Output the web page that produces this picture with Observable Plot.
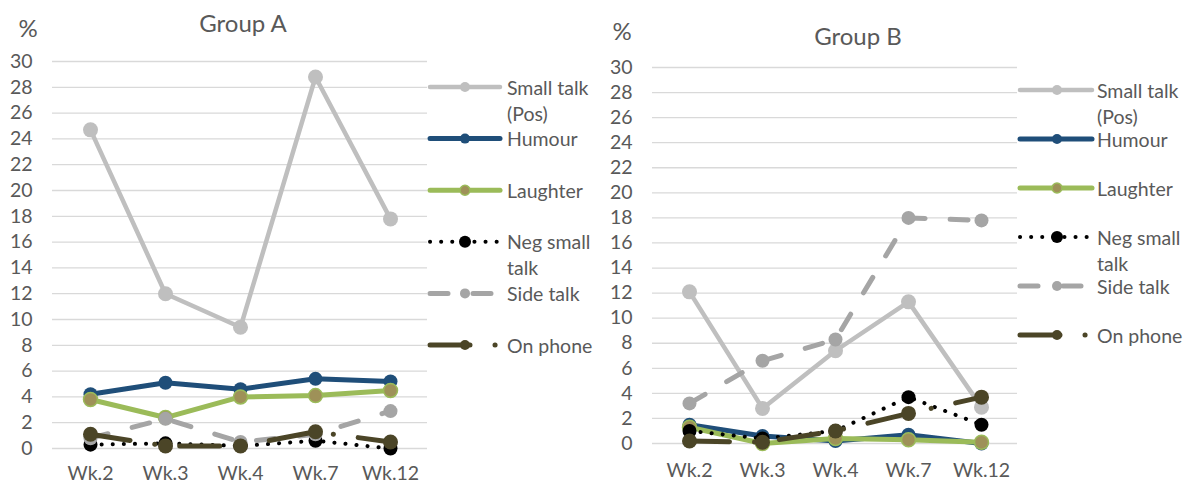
<!DOCTYPE html>
<html><head><meta charset="utf-8">
<script src="https://cdn.jsdelivr.net/npm/d3@7"></script>
<script src="https://cdn.jsdelivr.net/npm/@observablehq/plot@0.6"></script>
<style>
body{margin:0;background:#fff;}
#root{position:relative;width:1189px;height:486px;font-family:Lato,"Open Sans",sans-serif;color:#595959;overflow:hidden;background:#fff}
#root svg{position:absolute;top:0}
</style></head><body><div id="root"></div>
<script>
// ---- data ----
const weeks = ["Wk.2", "Wk.3", "Wk.4", "Wk.7", "Wk.12"];
const seriesNames = ["Small talk (Pos)", "Humour", "Laughter", "Neg small talk", "Side talk", "On phone"];
const legendLines = [["Small talk", "(Pos)"], ["Humour"], ["Laughter"], ["Neg small", "talk"], ["Side talk"], ["On phone"]];
const yTicks = [0, 2, 4, 6, 8, 10, 12, 14, 16, 18, 20, 22, 24, 26, 28, 30];

// Group A
const groupA_smallTalk = [24.7, 12.0, 9.4, 28.8, 17.8];
const groupA_humour    = [4.2, 5.1, 4.6, 5.4, 5.2];
const groupA_laughter  = [3.8, 2.4, 4.0, 4.1, 4.5];
const groupA_negSmall  = [0.3, 0.4, 0.2, 0.6, 0.0];
const groupA_sideTalk  = [0.8, 2.3, 0.5, 1.1, 2.9];
const groupA_onPhone   = [1.1, 0.2, 0.2, 1.3, 0.5];
// Group B
const groupB_smallTalk = [12.1, 2.8, 7.4, 11.3, 2.9];
const groupB_humour    = [1.5, 0.6, 0.2, 0.7, 0.0];
const groupB_laughter  = [1.3, 0.0, 0.4, 0.3, 0.1];
const groupB_negSmall  = [1.0, 0.4, 1.0, 3.7, 1.5];
const groupB_sideTalk  = [3.2, 6.6, 8.3, 18.0, 17.8];
const groupB_onPhone   = [0.2, 0.1, 1.0, 2.4, 3.7];

// ---- styles ----
const styles = [
  {color: "#BFBFBF", width: 4.5, dash: null, r: 7.5, fill: "#BFBFBF", lr: 5},
  {color: "#1F4E79", width: 5, dash: null, r: 7, fill: "#1F4E79", lr: 5},
  {color: "#9BBB59", width: 5, dash: null, r: 7, fill: "#9E9158", mstroke: "#9BBB59", msw: 1.5, lr: 5},
  {color: "#000000", width: 4, dash: "0.1 11", r: 7, fill: "#000000", lr: 6},
  {color: "#A5A5A5", width: 5, dash: "18 25", r: 7, fill: "#A5A5A5", lr: 5},
  {color: "#4B4527", width: 5, dash: "40 25 0.1 25", r: 7.5, fill: "#4B4527", lr: 5}
];
const FONT = "Lato, 'Open Sans', sans-serif";
const root = document.getElementById("root");

function panel(values, cfg) {
  const marks = [
    Plot.gridY(yTicks, {stroke: "#D9D9D9", strokeOpacity: 1, strokeWidth: 1.3}),
    Plot.axisY(yTicks, {tickSize: 0, tickPadding: 20, fontSize: 19.5, label: null}),
    Plot.axisX({tickSize: 0, tickPadding: cfg.xPad, fontSize: 19.5, label: null})
  ];
  seriesNames.forEach((name, i) => {
    const data = weeks.map((w, j) => ({week: w, value: values[i][j], series: name}));
    const s = styles[i];
    marks.push(Plot.line(data, {x: "week", y: "value", stroke: s.color, strokeWidth: s.width,
      strokeDasharray: s.dash || undefined, strokeLinecap: "round", strokeLinejoin: "round"}));
    marks.push(Plot.dot(data, {x: "week", y: "value", r: s.r, fill: s.fill,
      stroke: s.mstroke || "none", strokeWidth: s.msw || 0}));
  });
  const svg = Plot.plot({
    width: cfg.width, height: 486,
    marginLeft: cfg.ml, marginRight: cfg.mr, marginTop: cfg.mt, marginBottom: cfg.mb,
    x: {type: "point", domain: weeks, padding: 0.5, label: null},
    y: {domain: [0, 30], label: null},
    style: {fontFamily: FONT, color: "#595959", background: "transparent", overflow: "visible"},
    marks
  });
  svg.style.left = cfg.left + "px";
  root.appendChild(svg);
}

panel([groupA_smallTalk, groupA_humour, groupA_laughter, groupA_negSmall, groupA_sideTalk, groupA_onPhone],
  {left: 0, width: 430, ml: 52, mr: 3, mt: 61, mb: 38, xPad: 18});
panel([groupB_smallTalk, groupB_humour, groupB_laughter, groupB_negSmall, groupB_sideTalk, groupB_onPhone],
  {left: 590, width: 430, ml: 62, mr: 3, mt: 67, mb: 43, xPad: 20});

// ---- overlay: titles, % and legends ----
const ov = d3.select(root).append("svg").attr("width", 1189).attr("height", 486)
  .style("left", "0px").style("font-family", FONT).style("fill", "#595959");

const titles = [{t: "Group A", x: 243, y: 22}, {t: "Group B", x: 858, y: 35}];
titles.forEach(d => ov.append("text").attr("x", d.x).attr("y", d.y).attr("text-anchor", "middle")
  .attr("dominant-baseline", "central").attr("font-size", 24).text(d.t));
[{x: 28, y: 27}, {x: 622, y: 30}].forEach(d => ov.append("text").attr("x", d.x).attr("y", d.y)
  .attr("text-anchor", "middle").attr("dominant-baseline", "central").attr("font-size", 24).text("%"));

function legend(cfg) {
  legendLines.forEach((lines, i) => {
    const s = styles[i];
    const y = cfg.y0 + i * cfg.dy;
    ov.append("line").attr("x1", cfg.x0).attr("x2", cfg.x1).attr("y1", y).attr("y2", y)
      .attr("stroke", s.color).attr("stroke-width", s.width).attr("stroke-linecap", "round")
      .attr("stroke-dasharray", s.dash);
    ov.append("circle").attr("cx", cfg.mx).attr("cy", y).attr("r", s.lr).attr("fill", s.fill)
      .attr("stroke", s.mstroke || "none").attr("stroke-width", s.msw || 0);
    lines.forEach((ln, k) => ov.append("text").attr("x", cfg.tx).attr("y", y + k * 26)
      .attr("dominant-baseline", "central").attr("font-size", 19.5).text(ln));
  });
}
legend({x0: 430, x1: 500, mx: 465, tx: 507, y0: 87, dy: 51.6});
legend({x0: 1020, x1: 1092, mx: 1057, tx: 1097, y0: 90, dy: 49});
</script></body></html>
